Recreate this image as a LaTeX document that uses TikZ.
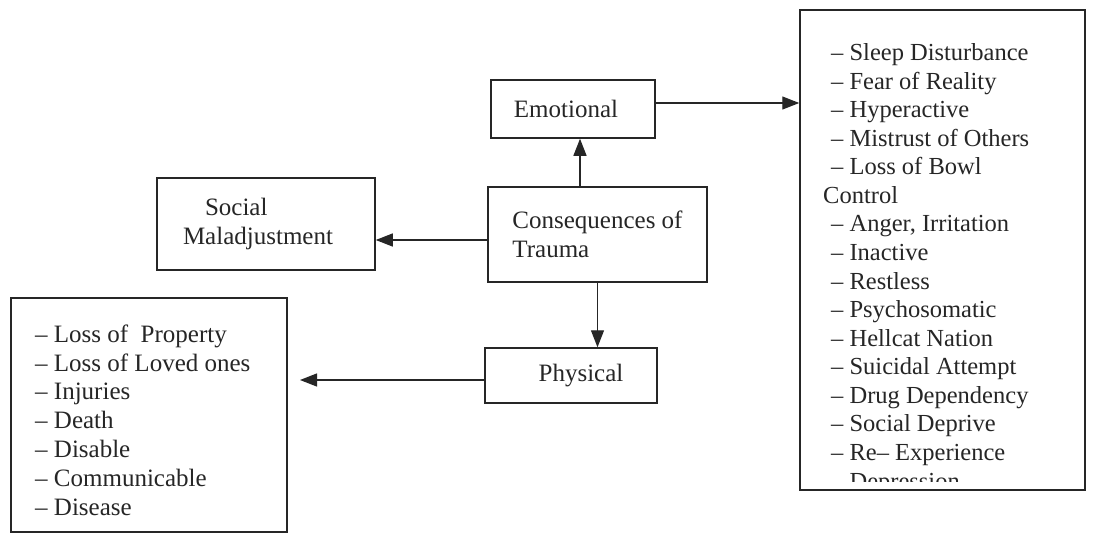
\documentclass[tikz,border=0pt]{standalone}
\usepackage{fontspec}
\setmainfont{Liberation Serif}
\usetikzlibrary{arrows.meta}
\definecolor{ink}{HTML}{262626}
\tikzset{
  box/.style={draw=ink, line width=1.5pt, inner sep=0pt, text=ink},
  txt/.style={text=ink, inner sep=0pt, align=left},
  arr/.style={draw=ink, line width=1.3pt, -{Triangle[length=17pt,width=13pt]}},
}
\begin{document}
\begin{tikzpicture}[x=1pt,y=-1pt,font=\fontsize{25}{29}\selectfont]
\fill[white] (0,0) rectangle (1096,541);
\useasboundingbox (0,0) rectangle (1096,541);

% boxes
\node[box, minimum width=164pt, minimum height=58pt] (emo) at (573,109) {Emotional\hspace*{14pt}};
\node[box, minimum width=219pt, minimum height=95pt, align=left] (cons) at (597.5,234.5) {Consequences of\\Trauma};
\node[box, minimum width=218pt, minimum height=92pt, align=left] (soc) at (266,224) {\hspace*{22pt}Social\\Maladjustment\hspace*{16pt}};
\node[box, minimum width=172pt, minimum height=55pt] (phys) at (571,375.5) {\hspace*{20pt}Physical};
\node[box, minimum width=276pt, minimum height=234pt] (physlist) at (149,415) {};
\node[box, minimum width=285pt, minimum height=480pt] (emolist) at (942.5,250) {};

% list texts (base anchor = baseline of the last line)
\node[txt, anchor=base west, font=\fontsize{25}{28.8}\selectfont] (physitems) at (35,515)
 {– Loss of\ \ Property\\– Loss of Loved ones\\– Injuries\\– Death\\– Disable\\– Communicable\\– Disease};

\begin{scope}
\clip (emolist.north west) rectangle ([yshift=9pt]emolist.south east);
\node[txt, anchor=base west, font=\fontsize{24.5}{28.57}\selectfont] (emoitems) at (823,489)
 {\hspace*{8pt}– Sleep Disturbance\\
  \hspace*{8pt}– Fear of Reality\\
  \hspace*{8pt}– Hyperactive\\
  \hspace*{8pt}– Mistrust of Others\\
  \hspace*{8pt}– Loss of Bowl\\
  Control\\
  \hspace*{8pt}– Anger, Irritation\\
  \hspace*{8pt}– Inactive\\
  \hspace*{8pt}– Restless\\
  \hspace*{8pt}– Psychosomatic\\
  \hspace*{8pt}– Hellcat Nation\\
  \hspace*{8pt}– Suicidal Attempt\\
  \hspace*{8pt}– Drug Dependency\\
  \hspace*{8pt}– Social Deprive\\
  \hspace*{8pt}– Re– Experience\\
  \hspace*{8pt}– Depression};
\end{scope}

% connectors
\coordinate (physend) at (300,380);
\draw[arr] ([xshift=-17.5pt]cons.north) -- ([xshift=-17.5pt]cons.north |- emo.south);
\draw[arr] ([yshift=-5.5pt]cons.west) -- ([yshift=-5.5pt]cons.west -| soc.east);
\draw[arr] (cons.south) -- (cons.south |- phys.north);
\draw[arr] ([yshift=-4.5pt]phys.west) -- (physend);
\draw[arr] ([yshift=6pt]emo.east) -- ([yshift=6pt]emo.east -| emolist.west);
\end{tikzpicture}
\end{document}
